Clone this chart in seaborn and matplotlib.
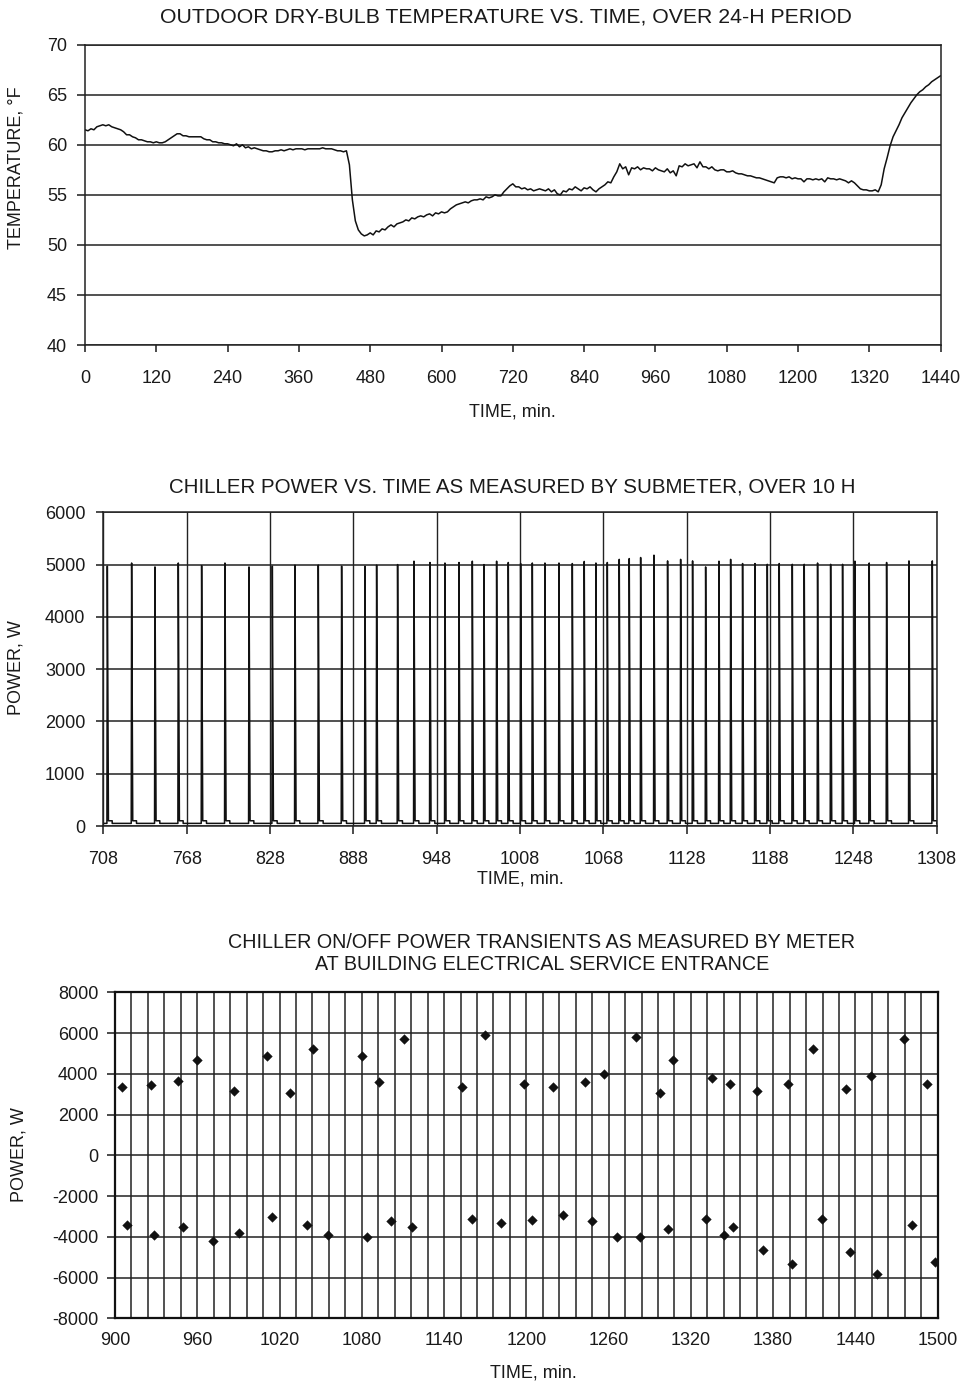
import numpy as np
import pandas as pd
import matplotlib
matplotlib.use("Agg")
import matplotlib.pyplot as plt
import seaborn as sns

# ---------------- DATA ----------------
# Chart 1: outdoor dry-bulb temperature, sampled every 5 min over 24 h
temp_time = np.arange(0, 1441, 5)
temp_values = [
    61.5, 61.4, 61.6, 61.5, 61.8, 61.9, 62.0, 61.9, 62.0, 61.8, 61.7, 61.6,
    61.5, 61.3, 61.0, 61.0, 60.8, 60.7, 60.5, 60.5, 60.4, 60.3, 60.3, 60.2,
    60.3, 60.2, 60.2, 60.3, 60.5, 60.7, 60.9, 61.1, 61.1, 60.9, 60.9, 60.8,
    60.8, 60.8, 60.8, 60.8, 60.6, 60.5, 60.5, 60.3, 60.3, 60.2, 60.2, 60.1,
    60.1, 60.0, 59.9, 60.1, 59.8, 60.0, 59.7, 59.8, 59.6, 59.7, 59.6, 59.5,
    59.4, 59.4, 59.3, 59.3, 59.4, 59.4, 59.5, 59.4, 59.5, 59.6, 59.5, 59.6,
    59.6, 59.6, 59.5, 59.6, 59.6, 59.6, 59.6, 59.6, 59.7, 59.6, 59.6, 59.6,
    59.5, 59.4, 59.4, 59.3, 59.4, 58.0, 54.5, 52.4, 51.5, 51.1, 50.9, 51.0,
    51.2, 51.0, 51.4, 51.3, 51.6, 51.5, 51.8, 52.0, 51.8, 52.1, 52.2, 52.3,
    52.5, 52.4, 52.7, 52.6, 52.8, 52.9, 52.8, 53.0, 53.1, 52.9, 53.2, 53.1,
    53.3, 53.2, 53.3, 53.6, 53.8, 54.0, 54.1, 54.2, 54.3, 54.2, 54.4, 54.5,
    54.5, 54.6, 54.5, 54.8, 54.7, 54.8, 55.0, 54.9, 54.9, 55.3, 55.6, 55.9,
    56.1, 55.8, 55.8, 55.6, 55.7, 55.5, 55.6, 55.4, 55.5, 55.6, 55.5, 55.4,
    55.6, 55.3, 55.5, 55.1, 55.0, 55.4, 55.3, 55.6, 55.5, 55.8, 55.6, 55.4,
    55.7, 55.6, 55.8, 55.5, 55.3, 55.6, 55.8, 56.0, 56.3, 56.2, 56.8, 57.3,
    58.1, 57.6, 57.8, 57.0, 57.7, 57.6, 57.8, 57.5, 57.7, 57.6, 57.6, 57.4,
    57.7, 57.5, 57.4, 57.3, 57.6, 57.2, 57.4, 56.9, 57.9, 57.8, 58.1, 57.9,
    58.0, 58.1, 57.7, 58.3, 57.8, 57.8, 57.6, 57.8, 57.5, 57.4, 57.5, 57.5,
    57.3, 57.3, 57.4, 57.2, 57.1, 57.1, 57.0, 56.9, 56.9, 56.8, 56.7, 56.7,
    56.6, 56.5, 56.4, 56.3, 56.2, 56.7, 56.8, 56.8, 56.7, 56.8, 56.6, 56.7,
    56.6, 56.6, 56.3, 56.6, 56.6, 56.5, 56.6, 56.5, 56.6, 56.3, 56.7, 56.6,
    56.6, 56.5, 56.6, 56.5, 56.4, 56.2, 56.4, 56.2, 55.9, 55.6, 55.5, 55.5,
    55.4, 55.4, 55.5, 55.3, 56.0, 57.6, 58.7, 59.9, 60.8, 61.4, 62.0, 62.7,
    63.2, 63.7, 64.2, 64.6, 65.0, 65.3, 65.5, 65.8, 66.0, 66.3, 66.5, 66.7,
    66.9,
]
temp_ticks = [0, 120, 240, 360, 480, 600, 720, 840, 960, 1080, 1200, 1320, 1440]
temp_yticks = [40, 45, 50, 55, 60, 65, 70]

# Chart 2: chiller on-cycles (start time in min, peak power in W)
spike_times = [
    710.9, 728.4, 745.2, 762.0, 778.8, 795.6, 812.9, 829.7, 846.0, 862.8,
    879.6, 896.4, 904.8, 919.9, 931.7, 943.2, 954.0, 964.1, 973.7, 982.1,
    991.2, 999.6, 1008.5, 1016.9, 1026.0, 1036.1, 1045.7, 1054.3, 1062.7,
    1070.9, 1079.5, 1086.7, 1094.9, 1104.5, 1114.3, 1123.7, 1132.3, 1141.7,
    1151.3, 1159.7, 1168.3, 1177.2, 1186.1, 1194.7, 1204.1, 1212.7, 1222.3,
    1231.7, 1240.3, 1249.2, 1259.5, 1272.0, 1288.1, 1304.9,
]
spike_peaks = [
    4970, 5030, 4955, 5030, 4980, 5030, 4955, 4970, 4990, 4990,
    4970, 4970, 4990, 5000, 5065, 5040, 5030, 5040, 5065, 5000,
    5065, 5040, 5020, 5030, 5030, 5030, 5020, 5060, 5030,
    5040, 5100, 5115, 5135, 5180, 5070, 5100, 5070, 4955,
    5065, 5100, 5020, 5020, 5005, 5020, 5005, 5005, 5030,
    5005, 5005, 5065, 5030, 5040, 5070, 5070,
]
base_power = 50
after_power = 100
power_ticks = [708, 768, 828, 888, 948, 1008, 1068, 1128, 1188, 1248, 1308]
power_yticks = [0, 1000, 2000, 3000, 4000, 5000, 6000]

# Chart 3: on/off power transients at service entrance
trans_time = [
    904.9, 909.0, 926.0, 928.7, 945.7, 949.8, 959.5, 971.2, 986.5, 990.6,
    1010.5, 1014.7, 1027.6, 1040.2, 1044.6, 1055.7, 1080.0, 1083.9, 1092.7,
    1101.2, 1110.6, 1116.5, 1153.2, 1160.4, 1170.2, 1181.6, 1198.2, 1204.2,
    1219.5, 1226.8, 1242.6, 1248.2, 1256.7, 1266.1, 1280.2, 1283.2, 1297.4,
    1303.3, 1307.2, 1331.2, 1335.3, 1344.1, 1348.3, 1350.9, 1367.9, 1372.3,
    1390.5, 1393.7, 1409.0, 1415.8, 1433.0, 1435.7, 1451.3, 1455.4, 1475.3,
    1481.2, 1492.3, 1497.8,
]
trans_power = [
    3335, -3400, 3435, -3890, 3630, -3515, 4660, -4185, 3140, -3810,
    4855, -3040, 3040, -3435, 5230, -3890, 4855, -4005, 3615,
    -3235, 5705, -3515, 3335, -3140, 5900, -3335, 3515, -3155,
    3335, -2945, 3615, -3235, 3990, -4005, 5805, -4005, 3040,
    -3615, 4660, -3140, 3795, -3890, 3515, -3515, 3140, -4660,
    3515, -5330, 5230, -3140, 3235, -4760, 3890, -5805, 5705,
    -3415, 3515, -5230,
]
trans_ticks = [900, 960, 1020, 1080, 1140, 1200, 1260, 1320, 1380, 1440, 1500]
trans_minor = list(range(900, 1501, 12))
trans_yticks = [-8000, -6000, -4000, -2000, 0, 2000, 4000, 6000, 8000]

# ---------------- STYLE ----------------
sns.set_theme(style="white")
plt.rcParams['font.family'] = ['Liberation Sans', 'DejaVu Sans']
plt.rcParams['axes.unicode_minus'] = False
plt.rcParams['text.color'] = '#1a1a1a'
plt.rcParams['xtick.color'] = '#1a1a1a'
plt.rcParams['ytick.color'] = '#1a1a1a'

W, H = 973, 1384
fig = plt.figure(figsize=(W / 100, H / 100), dpi=100)
fig.patch.set_facecolor('white')


def rect(l, t, r, b):
    return [l / W, 1 - b / H, (r - l) / W, (b - t) / H]


def ftext(x, y, s, **kw):
    fig.text(x / W, 1 - y / H, s, ha='center', va='center', **kw)


GRID = '#222222'
FS = 13

# ---------------- CHART 1 ----------------
ax1 = fig.add_axes(rect(85, 44.7, 940.6, 345))
df1 = pd.DataFrame({'t': temp_time, 'T': temp_values})
sns.lineplot(data=df1, x='t', y='T', ax=ax1, color='#111111', linewidth=1.1,
             estimator=None, sort=False)
ax1.set_xlim(0, 1440)
ax1.set_ylim(40, 70)
ax1.set_xticks(temp_ticks)
ax1.set_yticks(temp_yticks)
ax1.grid(False)
for v in temp_yticks:
    ax1.axhline(v, color=GRID, linewidth=1.1, zorder=0)
ax1.tick_params(axis='x', direction='out', length=5, width=1.1, pad=13, labelsize=FS, bottom=True)
ax1.tick_params(axis='y', direction='out', length=6, width=1.1, pad=7, labelsize=FS, left=True)
ax1.set_xlabel('')
ax1.set_ylabel('')
for s in ax1.spines.values():
    s.set_color(GRID)
    s.set_linewidth(1.1)
ftext(506, 17, 'OUTDOOR DRY-BULB TEMPERATURE VS. TIME, OVER 24-H PERIOD', fontsize=15.3)
ftext(512, 412, 'TIME, min.', fontsize=FS)
ftext(16, 168, 'TEMPERATURE, °F', fontsize=FS, rotation=90)

# ---------------- CHART 2 ----------------
ax2 = fig.add_axes(rect(103.3, 512.3, 936.6, 826))
pt, pp = [708.0], [base_power]
for ts, pk in zip(spike_times, spike_peaks):
    pt += [ts - 0.3, ts, ts + 0.8, ts + 3.5, ts + 3.5]
    pp += [base_power, pk, after_power, after_power, base_power]
pt.append(1308.0)
pp.append(base_power)
df2 = pd.DataFrame({'t': pt, 'P': pp})
sns.lineplot(data=df2, x='t', y='P', ax=ax2, color='#111111', linewidth=1.1,
             estimator=None, sort=False)
ax2.set_xlim(708, 1308)
ax2.set_ylim(0, 6000)
ax2.set_xticks(power_ticks)
ax2.set_yticks(power_yticks)
ax2.grid(False)
for v in power_yticks:
    ax2.axhline(v, color=GRID, linewidth=1.1, zorder=0)
for v in power_ticks:
    ax2.axvline(v, color=GRID, linewidth=1.0, zorder=0)
ax2.tick_params(axis='x', direction='out', length=6, width=1.1, pad=12, labelsize=FS, bottom=True)
ax2.tick_params(axis='y', direction='out', length=5, width=1.1, pad=8, labelsize=FS, left=True)
ax2.set_xlabel('')
ax2.set_ylabel('')
for s in ax2.spines.values():
    s.set_color(GRID)
    s.set_linewidth(1.1)
ftext(512, 487, 'CHILLER POWER VS. TIME AS MEASURED BY SUBMETER, OVER 10 H', fontsize=14.8)
ftext(520, 879, 'TIME, min.', fontsize=FS)
ftext(16, 668, 'POWER, W', fontsize=FS, rotation=90)

# ---------------- CHART 3 ----------------
ax3 = fig.add_axes(rect(115, 992.3, 937.7, 1318.3))
df3 = pd.DataFrame({'t': trans_time, 'P': trans_power})
sns.scatterplot(data=df3, x='t', y='P', ax=ax3, marker='D', s=24,
                color='#111111', edgecolor='#111111', linewidth=0.3, zorder=3)
ax3.set_xlim(900, 1500)
ax3.set_ylim(-8000, 8000)
ax3.set_xticks(trans_ticks)
ax3.set_yticks(trans_yticks)
ax3.grid(False)
for v in trans_yticks:
    ax3.axhline(v, color=GRID, linewidth=1.1, zorder=0)
for v in trans_minor:
    ax3.axvline(v, color=GRID, linewidth=1.1, zorder=0)
ax3.tick_params(axis='x', length=0, pad=10, labelsize=FS, bottom=True)
ax3.tick_params(axis='y', direction='out', length=6, width=1.1, pad=6, labelsize=FS, left=True)
ax3.set_xlabel('')
ax3.set_ylabel('')
for s in ax3.spines.values():
    s.set_color('#111111')
    s.set_linewidth(1.6)
ftext(542, 953, 'CHILLER ON/OFF POWER TRANSIENTS AS MEASURED BY METER\nAT BUILDING ELECTRICAL SERVICE ENTRANCE',
      fontsize=14.2, linespacing=1.2)
ftext(533, 1373, 'TIME, min.', fontsize=FS)
ftext(19, 1155, 'POWER, W', fontsize=FS, rotation=90)

fig.savefig('out.png', dpi=100, facecolor='white')
